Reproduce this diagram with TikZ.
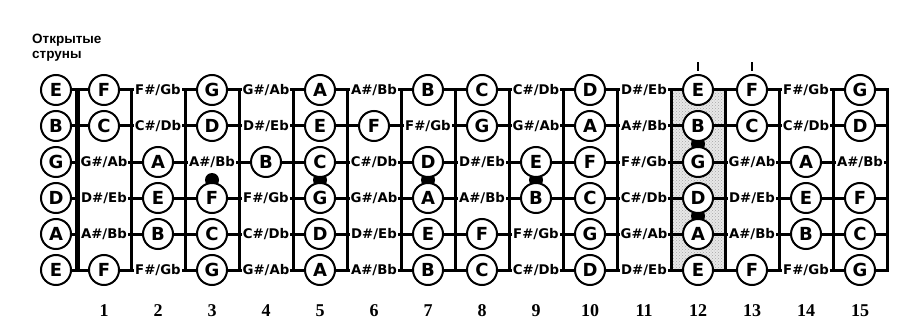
\documentclass[tikz,border=0pt]{standalone}
\usepackage{fontspec}
\setmainfont{DejaVu Sans}
\newfontfamily\labfont{Liberation Sans}
\newfontfamily\numfont{Liberation Serif}
\usetikzlibrary{patterns,backgrounds}
\newcommand\notename[1]{\ifcase#1 C\or C\#/Db\or D\or D\#/Eb\or E\or F\or F\#/Gb\or G\or G\#/Ab\or A\or A\#/Bb\or B\fi}
\begin{document}
\begin{tikzpicture}[x=1pt,y=-1pt,
  note/.style={circle, draw, line width=2pt, fill=white, minimum size=30pt, inner sep=0pt, font=\fontsize{18}{18}\selectfont\bfseries},
  sharp/.style={fill=white, inner sep=0.8pt, font=\fontsize{13.3}{13.3}\selectfont\bfseries},
  stringline/.style={line width=3pt},
  fretline/.style={line width=3pt, line cap=rect},
  nutline/.style={line width=4.5pt, line cap=rect},
  marker/.style={circle, fill=black, minimum size=14pt, inner sep=0pt},
  tick/.style={line width=2pt},
  fretnum/.style={font=\numfont\fontsize{18}{18}\selectfont\bfseries},
  label/.style={font=\labfont\fontsize{13.5}{15}\selectfont\bfseries, align=left, anchor=north west, inner sep=0pt}]
\useasboundingbox (0,0) rectangle (923,326);
\node[label] (title) at (32,34) {Открытые\\струны};
% open strings
\foreach \r/\nm in {1/E,2/B,3/G,4/D,5/A,6/E}{
  \node[note] (o\r) at (56,{90+36*(\r-1)}) {\nm};
  \coordinate (e\r) at (887,{90+36*(\r-1)});
}
% notes
\foreach \r/\base in {1/4,2/11,3/7,4/2,5/9,6/4}{
  \foreach \n in {1,...,15}{
    \pgfmathtruncatemacro\p{mod(\base+\n,12)}
    \pgfmathtruncatemacro\nat{{1,0,1,0,1,1,0,1,0,1,0,1}[\p]}
    \ifnum\nat=1
      \node[note] (n-\r-\n) at ({104+54*(\n-1)},{90+36*(\r-1)}) {\notename{\p}};
    \else
      \node[sharp] (n-\r-\n) at ({104+54*(\n-1)},{90+36*(\r-1)}) {\notename{\p}};
    \fi
  }
}
% fret numbers
\foreach \n in {1,...,15}{
  \node[fretnum] (f\n) at ({104+54*(\n-1)},311) {\n};
}
% ticks above 12 and 13
\draw[tick] (n-1-12.north) ++(0,-3) -- ++(0,-9);
\draw[tick] (n-1-13.north) ++(0,-3) -- ++(0,-9);
\begin{pgfonlayer}{background}
  % 12th fret shading
  \fill[gray!18] (671,90) rectangle (725,270);
  \fill[pattern=crosshatch dots, pattern color=gray!70] (671,90) rectangle (725,270);
  % strings
  \foreach \r in {1,...,6}{ \draw[stringline] (o\r) -- (e\r); }
  % nut
  \coordinate (nt) at (77.5,90);
  \coordinate (nb) at (77.5,270);
  \draw[nutline] (nt) -- (nb);
  % frets
  \foreach \k in {1,...,15}{
    \coordinate (ft\k) at ({77+54*\k},90);
    \coordinate (fb\k) at ({77+54*\k},270);
    \draw[fretline] (ft\k) -- (fb\k);
  }
  % position markers
  \foreach \n/\yy in {3/180,5/180,7/180,9/180,12/144,12/216}{
    \node[marker] (m\n-\yy) at ({104+54*(\n-1)},\yy) {};
  }
\end{pgfonlayer}
\end{tikzpicture}
\end{document}
